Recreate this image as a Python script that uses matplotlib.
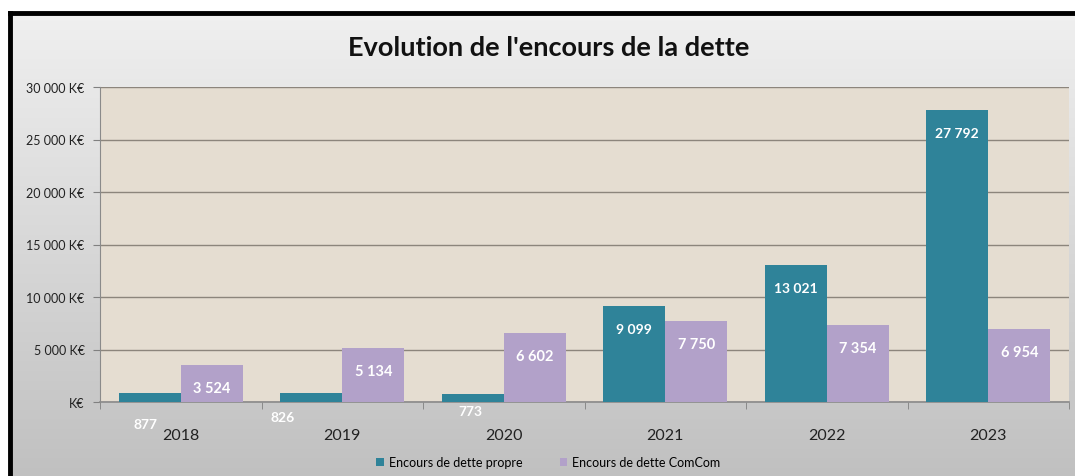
import matplotlib
matplotlib.use("Agg")
import matplotlib.pyplot as plt
import numpy as np
from matplotlib.ticker import FixedLocator, FuncFormatter

plt.rcParams['font.family'] = ['Lato', 'DejaVu Sans']

years = ["2018", "2019", "2020", "2021", "2022", "2023"]
dette_propre = [877, 826, 773, 9099, 13021, 27792]
dette_comcom = [3524, 5134, 6602, 7750, 7354, 6954]
series_names = ["Encours de dette propre", "Encours de dette ComCom"]
title = "Evolution de l'encours de la dette"

teal = "#2f8399"
purple = "#b2a1c9"

W, H = 1075, 477
fig = plt.figure(figsize=(W / 100, H / 100), dpi=100)
fig.patch.set_facecolor("white")

# background gradient panel with black frame
bg = fig.add_axes([10 / W, -0.02, 1.0, (H - 14) / H + 0.02])
grad = np.linspace(0, 1, 256).reshape(-1, 1)
top_c = np.array([0.94, 0.94, 0.94])
bot_c = np.array([0.75, 0.75, 0.75])
img = top_c[None, None, :] * (1 - grad[:, :, None]) + bot_c[None, None, :] * grad[:, :, None]
bg.imshow(img, aspect="auto", extent=[0, 1, 0, 1], origin="upper")
bg.set_xlim(0, 1)
bg.set_ylim(0, 1)
bg.set_xticks([])
bg.set_yticks([])
for s in ["right", "bottom"]:
    bg.spines[s].set_visible(False)
for s in ["top", "left"]:
    bg.spines[s].set_linewidth(3.5)
    bg.spines[s].set_color("black")
bg.set_zorder(-10)

ax = fig.add_axes([100 / W, (H - 403) / H, (1069 - 100) / W, (403 - 88) / H])
ax.set_facecolor("#e5ddd1")

x = np.arange(len(years))
w = 0.385
b1 = ax.bar(x - w / 2, dette_propre, width=w, color=teal, zorder=3, label=series_names[0])
b2 = ax.bar(x + w / 2, dette_comcom, width=w, color=purple, zorder=3, label=series_names[1])

ax.set_ylim(0, 30000)
ax.set_xlim(-0.5, len(years) - 0.5)
ax.yaxis.set_major_locator(FixedLocator(np.arange(0, 30001, 5000)))
ax.yaxis.set_major_formatter(FuncFormatter(
    lambda v, p: "K€" if v == 0 else f"{v:,.0f}".replace(",", " ") + " K€"))
ax.grid(axis="y", color="#8c857c", linewidth=1.0, zorder=1)
ax.set_axisbelow(True)

ax.set_xticks(x)
ax.set_xticklabels(years)
ax.set_xticks(np.arange(-0.5, len(years), 1.0), minor=True)
ax.tick_params(axis="x", which="major", length=0, pad=19, labelsize=11.5, labelcolor="#222222")
ax.tick_params(axis="x", which="minor", length=5, color="#808080", direction="out")
ax.tick_params(axis="y", length=5, color="#808080", labelsize=9, labelcolor="#222222", pad=6)

for s in ["top", "right"]:
    ax.spines[s].set_visible(False)
ax.spines["left"].set_color("#8a8a8a")
ax.spines["bottom"].set_color("#8a8a8a")
ax.spines["bottom"].set_linewidth(1.2)


def fmt(v):
    return f"{v:,.0f}".replace(",", " ")


# small teal labels placed below axis (pixel offsets from bar center base)
small_offsets = [(-4, -22), (-29, -15), (-2, -9)]
for i, v in enumerate(dette_propre):
    if v > 3000:
        ax.text(x[i] - w / 2, v - 2150, fmt(v), ha="center", va="center",
                color="white", fontsize=10, fontweight="bold", zorder=5)
    else:
        dx, dy = small_offsets[i]
        ax.annotate(fmt(v), (x[i] - w / 2, 0), xytext=(dx, dy), textcoords="offset pixels",
                    ha="center", va="center", color="white", fontsize=10,
                    fontweight="bold", zorder=5, annotation_clip=False)

for i, v in enumerate(dette_comcom):
    ax.text(x[i] + w / 2, v - 2200, fmt(v), ha="center", va="center",
            color="white", fontsize=10.5, fontweight="bold", zorder=5)

fig.text(0.51, (H - 48) / H, title, ha="center", va="center",
         fontsize=19.5, fontweight="bold", color="#111111")

fig.legend(handles=[b1, b2], labels=series_names, loc="center",
           bbox_to_anchor=(0.51, (H - 463) / H), ncol=2, frameon=False,
           handlelength=0.6, handleheight=0.6, handletextpad=0.4,
           columnspacing=3.0, fontsize=9)

fig.savefig("out.png", dpi=100)
